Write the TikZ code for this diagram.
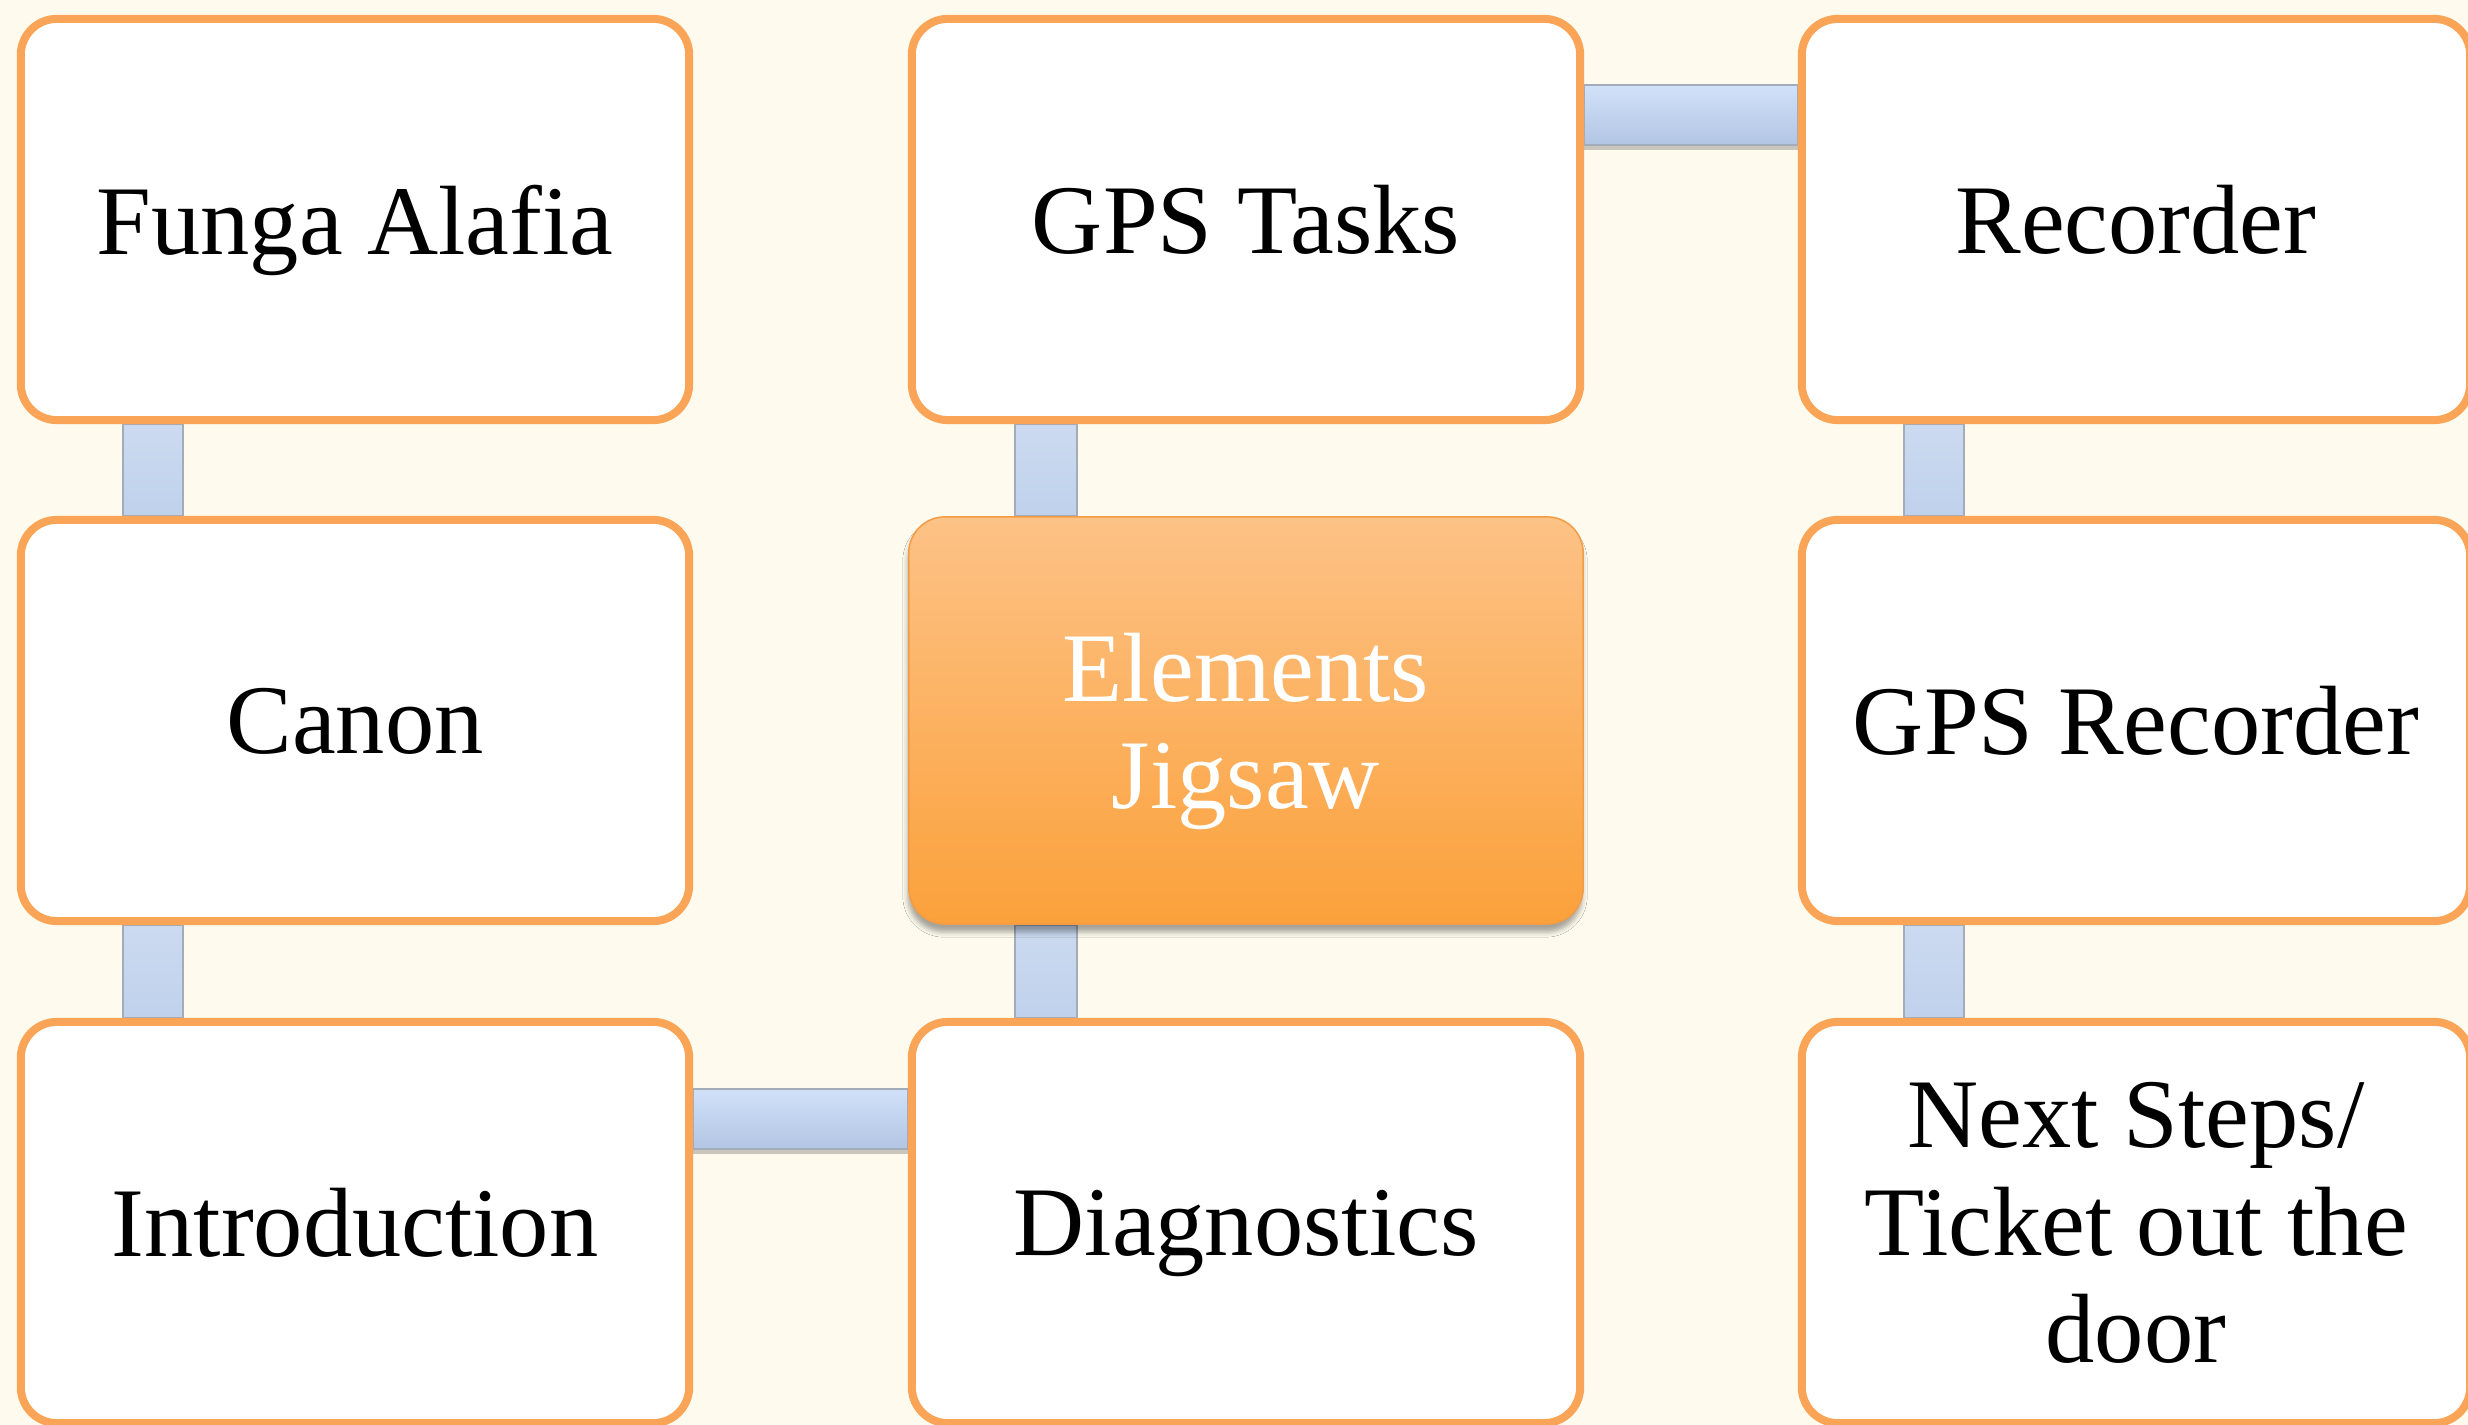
\documentclass[tikz,border=0pt]{standalone}
\usepackage{fontspec}
\setmainfont{Liberation Serif}
\usetikzlibrary{backgrounds,shadows,shadows.blur,calc}

\definecolor{paper}{HTML}{FEFBEE}
\definecolor{boxline}{HTML}{F9A456}
\definecolor{barlight}{HTML}{D1E1F9}
\definecolor{bardark}{HTML}{B2C5E3}
\definecolor{barmid}{HTML}{BFD1EC}
\definecolor{baredge}{HTML}{A3ACBA}
\definecolor{hubtop}{HTML}{FDC286}
\definecolor{hubbot}{HTML}{FBA13B}
\definecolor{hubline}{HTML}{F39C45}

\tikzset{
  stepbox/.style={draw=boxline, line width=0.08cm, fill=white,
    rounded corners=0.36cm, minimum width=6.68cm, minimum height=4.01cm,
    inner sep=0pt, align=center, text depth=0pt,
    font=\fontsize{28}{30.5}\selectfont},
  hubbox/.style={stepbox, draw=hubline, line width=0.015cm,
    minimum width=6.74cm, minimum height=4.07cm,
    top color=hubtop, bottom color=hubbot, text=white,
    blur shadow={shadow xshift=-0.01cm, shadow yshift=-0.08cm,
      shadow blur radius=0.05cm, shadow opacity=35}},
  hbar/.style={top color=barlight, bottom color=bardark,
    draw=baredge, line width=0.4pt,
    drop shadow={shadow xshift=0pt, shadow yshift=-0.05cm,
      opacity=0.3, fill=black!70}},
  vbar/.style={top color=barmid!80!white, bottom color=barmid,
    draw=baredge, line width=0.4pt},
}

\begin{document}
\begin{tikzpicture}[x=0.01cm, y=-0.01cm]
  \useasboundingbox (0,0) rectangle (2468,1425);

  % the nine steps, three columns by three rows
  \node[stepbox] (fa)    at (355, 219.5)  {Funga Alafia};
  \node[stepbox] (ca)    at (355, 720.5)  {Canon};
  \node[stepbox] (intro) at (355, 1222.5) {Introduction};
  \node[stepbox] (dg)    at (1246, 1222.5) {Diagnostics};
  \node[hubbox]  (ej)    at (1246, 720.5)  {Elements\\Jigsaw};
  \node[stepbox] (gt)    at (1246, 219.5)  {GPS Tasks};
  \node[stepbox] (re)    at (2136, 219.5)  {Recorder};
  \node[stepbox] (gr)    at (2136, 720.5)  {GPS Recorder};
  \node[stepbox] (ns)    at (2136, 1222.5) {Next Steps/\\Ticket out the\\door};

  \begin{pgfonlayer}{background}
    \fill[paper] (0,0) rectangle (2468,1425);
    % connecting bars, tucked behind the boxes
    \path[vbar] ($(fa.south west)+(106,0)$) rectangle ($(ca.north west)+(166,0)$);
    \path[vbar] ($(ca.south west)+(106,0)$) rectangle ($(intro.north west)+(166,0)$);
    \path[hbar] ($(intro.north east)+(0,71)$) rectangle ($(dg.north west)+(0,131)$);
    \path[vbar] ($(ej.south west)+(107,0)$) rectangle ($(dg.north west)+(169,0)$);
    \path[vbar] ($(gt.south west)+(107,0)$) rectangle ($(ej.north west)+(169,0)$);
    \path[hbar] ($(gt.north east)+(0,70)$) rectangle ($(re.north west)+(0,130)$);
    \path[vbar] ($(re.south west)+(106,0)$) rectangle ($(gr.north west)+(166,0)$);
    \path[vbar] ($(gr.south west)+(106,0)$) rectangle ($(ns.north west)+(166,0)$);
  \end{pgfonlayer}
\end{tikzpicture}
\end{document}
